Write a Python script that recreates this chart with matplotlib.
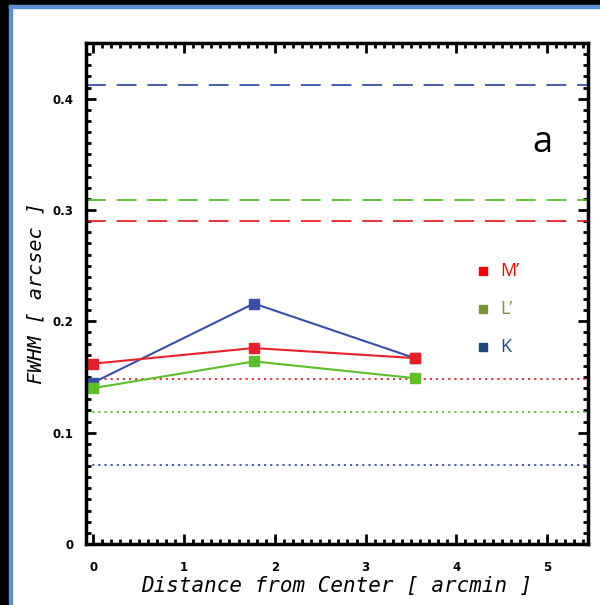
import matplotlib
matplotlib.use('Agg')
import matplotlib.pyplot as plt
from matplotlib.patches import Rectangle
from matplotlib.ticker import MultipleLocator
import numpy as np

# measured FWHM vs distance from center
distance = [0.0, 1.77, 3.54]
fwhm_m = [0.162, 0.176, 0.167]
fwhm_l = [0.140, 0.164, 0.149]
fwhm_k = [0.145, 0.216, 0.167]

# reference levels: dashed (upper) and dotted (lower)
dashed_levels = {'K': 0.412, 'L': 0.309, 'M': 0.290}
dotted_levels = {'M': 0.148, 'L': 0.119, 'K': 0.071}

line_colors = {'M': '#e8202a', 'L': '#5cbf2a', 'K': '#3a4ea8'}
legend_names = ["M\u2019", "L\u2019", "K"]
legend_colors = ['#ff0000', '#77933c', '#1f497d']

fig = plt.figure(figsize=(6.0, 6.05), dpi=100)
fig.patch.set_facecolor('white')
# frame decoration of the original slide
fig.add_artist(Rectangle((0, 0), 9/600, 1, transform=fig.transFigure, color='black', zorder=-5))
fig.add_artist(Rectangle((0, 1-5/605), 1, 5/605, transform=fig.transFigure, color='black', zorder=-5))
fig.add_artist(Rectangle((9/600, 0), 3/600, 1-5/605, transform=fig.transFigure, color='#5b8fd6', zorder=-4))
fig.add_artist(Rectangle((9/600, 1-8/605), 1, 3/605, transform=fig.transFigure, color='#5b8fd6', zorder=-4))

ax = fig.add_axes([86/600, 1-544/605, (588-86)/600, (544-43)/605])

for key, y in dashed_levels.items():
    ax.axhline(y, color=line_colors[key], lw=1.3, dashes=(11, 6))
for key, y in dotted_levels.items():
    ax.axhline(y, color=line_colors[key], lw=1.3, dashes=(1.2, 2.2))

ax.plot(distance, fwhm_k, '-s', color=line_colors['K'], lw=1.5, ms=7)
ax.plot(distance, fwhm_m, '-s', color=line_colors['M'], lw=1.5, ms=7)
ax.plot(distance, fwhm_l, '-s', color=line_colors['L'], lw=1.5, ms=7)

ax.set_xlim(-0.08, 5.45)
ax.set_ylim(0, 0.45)
ax.xaxis.set_major_locator(MultipleLocator(1))
ax.xaxis.set_minor_locator(MultipleLocator(0.1))
ax.yaxis.set_major_locator(MultipleLocator(0.1))
ax.yaxis.set_minor_locator(MultipleLocator(0.01))
ax.set_yticks([0, 0.1, 0.2, 0.3, 0.4])
ax.set_yticklabels(['0', '0.1', '0.2', '0.3', '0.4'])
ax.tick_params(which='both', direction='in', top=True, right=True, width=2)
ax.tick_params(which='major', length=7, labelsize=8.5)
ax.tick_params(axis='x', which='major', pad=12)
ax.tick_params(axis='y', which='major', pad=9)
ax.tick_params(which='minor', length=3.5)
for lab in ax.get_xticklabels() + ax.get_yticklabels():
    lab.set_fontweight('bold')
for sp in ax.spines.values():
    sp.set_linewidth(2.5)

ax.set_xlabel('Distance from Center [ arcmin ]', fontsize=15, style='italic',
              family='DejaVu Sans Mono', labelpad=2)
ax.set_ylabel('FWHM [ arcsec ]', fontsize=14.5, style='italic',
              family='DejaVu Sans Mono', labelpad=5)

# legend drawn as colored squares + text
for i, (name, col) in enumerate(zip(legend_names, legend_colors)):
    yy = 0.245 - i * 0.034
    ax.plot([4.29], [yy], 's', color=col, ms=6)
    ax.text(4.48, yy, name, color=col, fontsize=13, family='Open Sans', va='center')

ax.text(4.95, 0.36, 'a', fontsize=26, family='Open Sans', ha='center', va='center')

fig.savefig('out.png', dpi=100)
